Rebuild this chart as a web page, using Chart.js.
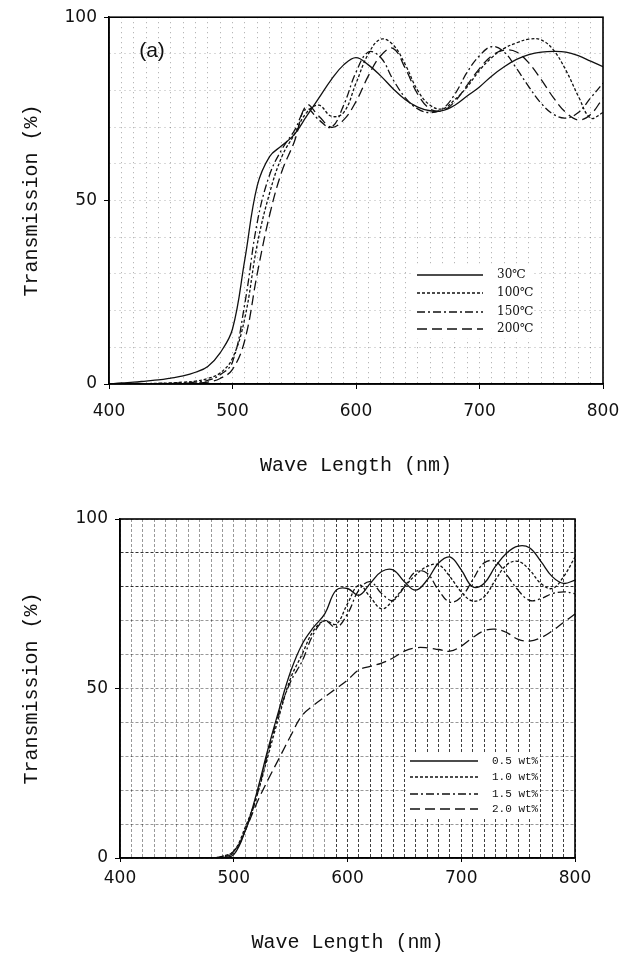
<!DOCTYPE html>
<html>
<head>
<meta charset="utf-8">
<script src="https://cdn.jsdelivr.net/npm/chart.js@4"></script>
<style>
body { margin: 0; background: #fff; width: 633px; height: 956px; position: relative; overflow: hidden; }
.box { position: absolute; left: 0; width: 633px; }
</style>
</head>
<body>
<div class="box" style="top:0;height:480px"><canvas id="chartA"></canvas></div>
<div class="box" style="top:480px;height:476px"><canvas id="chartB"></canvas></div>
<script>
// wavelength in nm, shared by every curve
const wavelength = [400,410,420,430,440,450,460,470,480,490,500,510,520,530,540,550,560,570,580,590,
  600,610,620,630,640,650,660,670,680,690,700,710,720,730,740,750,760,770,780,790,800];

// (a) transmission (%) vs annealing temperature
const temp30  = [0,0.3,0.5,0.8,1.1,1.6,2.2,3.2,4.8, 8.5,15,34,54,62,65,68,73,78,83, 87,89,87,84,80.5,77.5,75.5,74.5,74.5,76,
  78.5,81,84,86.5,88.5,89.8,90.5,90.7,90.5,89.5, 88,86.5];
const temp100 = [0,0,0,0.1,0.2,0.3,0.5,0.8,1.5, 3,7,18,38,52,62,68,74,76,73, 74,82,90,94,92.5,87,80,76,75,77.5,
  81,85.5,89,91.5,93,94,93.8,91,85.5,78.5, 72.5,74];
const temp150 = [0,0,0,0,0.1,0.2,0.3,0.5,1, 2.5,6,22,44,57,64,69,75,72,70, 76,85,90.5,89,83,78,75,74,75,79,
  85,89.5,92,90.5,86,81,76.5,73.5,72.5,74, 78,82];
const temp200 = [0,0,0,0,0,0.1,0.2,0.3,0.5, 1.5,4,12,30,46,58,66,76,73,70, 72,77,84,89.5,91.5,86,79,75,74.5,77,
  81.5,86,89.5,91,90.5,87.5,83,78,74,72, 73.5,78];

// (b) transmission (%) vs dopant content
const wt05 = [0,0,0,0,0,0,0,0,0, 0.2,1,8,19,32,44,55,63,68,72, 79,79.5,77.5,81,84.5,85,81.5,79,82,87,
  88.8,85,80,81,86,90,92,91.5,87.5,83, 81,82];
const wt10 = [0,0,0,0,0,0,0,0,0, 0.5,2,9,18,30,42,53,60,67,70, 69,75,80.5,77,73.5,76,80,83.5,86,86.5,
  83,78.5,75.8,77,82,86.5,87.5,85,81,79.5, 83,88.8];
const wt15 = [0,0,0,0,0,0,0,0,0, 0.5,2,8,18,31,43,52,58,66,70, 68,72,79,81.5,78,76,80,84.5,84,79,
  75.5,77,82,87,87.5,83.5,79,76,76.5,78, 78.5,78];
const wt20 = [0,0,0,0,0,0,0,0,0, 0.3,1.5,8,16,23,29.5,36,42,45,47.5, 50,52.5,55.5,56.5,57.5,59,61,62,62,61.5,
  61,62.5,65,67,67.5,66.5,64.5,64,65,67, 69.5,72];

const labelsA = ['30℃', '100℃', '150℃', '200℃'];
const labelsB = ['0.5 wt%', '1.0 wt%', '1.5 wt%', '2.0 wt%'];
const xTickLabels = [400, 500, 600, 700, 800];
const yTickLabels = [0, 50, 100];

const dashes = [[], [3, 2], [8, 3, 2, 3], [10, 5]];
const ink = '#111';

function points(vals) {
  return wavelength.map((w, i) => ({ x: w, y: vals[i] }));
}

function makeDatasets(series, labels) {
  return series.map((s, i) => ({
    label: labels[i],
    data: points(s),
    borderColor: ink,
    borderWidth: 1.3,
    borderDash: dashes[i],
    pointRadius: 0,
    tension: 0.4,
    fill: false
  }));
}

// box around the plot area + legend drawn like the figure
const framePlugin = {
  id: 'frame',
  afterDatasetsDraw(chart, args, opts) {
    const ctx = chart.ctx;
    const a = chart.chartArea;
    ctx.save();
    const rows = opts.rows;
    ctx.fillStyle = '#fff';
    ctx.fillRect(opts.x0 - 4, rows[0] - 9, opts.x2 - opts.x0 + opts.w, rows[rows.length - 1] - rows[0] + 18);
    chart.data.datasets.forEach((ds, i) => {
      const y = rows[i];
      ctx.strokeStyle = ink;
      ctx.lineWidth = 1.3;
      ctx.setLineDash(ds.borderDash);
      ctx.beginPath();
      ctx.moveTo(opts.x0, y);
      ctx.lineTo(opts.x1, y);
      ctx.stroke();
      ctx.setLineDash([]);
      ctx.fillStyle = ink;
      ctx.font = opts.font;
      ctx.textBaseline = 'middle';
      ctx.textAlign = 'left';
      ctx.fillText(ds.label, opts.x2, y);
    });
    if (opts.tag) {
      ctx.font = '21px "Liberation Sans"';
      ctx.textAlign = 'center';
      ctx.textBaseline = 'middle';
      ctx.fillText(opts.tag, opts.tagX, opts.tagY);
    }
    ctx.setLineDash([]);
    ctx.strokeStyle = '#000';
    ctx.lineWidth = 1.6;
    ctx.strokeRect(a.left, a.top, a.right - a.left, a.bottom - a.top);
    ctx.restore();
  }
};

function makeChart(id, datasets, cfg) {
  return new Chart(document.getElementById(id), {
    type: 'line',
    data: { datasets: datasets },
    plugins: [framePlugin],
    options: {
      responsive: true,
      maintainAspectRatio: false,
      animation: false,
      layout: { padding: cfg.padding },
      plugins: {
        legend: { display: false },
        tooltip: { enabled: false },
        frame: cfg.key
      },
      scales: {
        x: {
          type: 'linear', min: 400, max: 800,
          afterFit(s) { s.height = cfg.xHeight; },
          grid: {
            color: cfg.xGrid, lineWidth: 1, tickLength: cfg.xTick,
            tickColor: c => (c.tick && xTickLabels.includes(c.tick.value)) ? '#000' : 'rgba(0,0,0,0)'
          },
          border: { color: '#000', width: 1.5, dash: cfg.dash },
          ticks: {
            stepSize: 10, autoSkip: false, maxRotation: 0, padding: cfg.xPad,
            color: ink, font: { family: 'DejaVu Sans', size: 17 },
            callback: v => xTickLabels.includes(v) ? String(v) : ''
          },
          title: {
            display: true, text: 'Wave Length (nm)', color: ink,
            font: { family: 'Liberation Mono', size: 20 },
            padding: { top: 0, bottom: cfg.titlePad }
          }
        },
        y: {
          min: 0, max: 100,
          afterFit(s) { s.width = cfg.yWidth; },
          grid: {
            color: cfg.yGrid, lineWidth: 1, tickLength: 5,
            tickColor: c => (c.tick && yTickLabels.includes(c.tick.value)) ? '#000' : 'rgba(0,0,0,0)'
          },
          border: { color: '#000', width: 1.5, dash: cfg.dash },
          ticks: {
            stepSize: 10, autoSkip: false, padding: 7,
            color: ink, font: { family: 'DejaVu Sans', size: 17 },
            callback: v => yTickLabels.includes(v) ? String(v) : ''
          },
          title: {
            display: true, text: 'Transmission (%)', color: ink,
            font: { family: 'Liberation Mono', size: 20 },
            padding: { top: 20, bottom: 0 }
          }
        }
      }
    }
  });
}

makeChart('chartA', makeDatasets([temp30, temp100, temp150, temp200], labelsA), {
  padding: { top: 13, right: 30, left: 0, bottom: 0 },
  xHeight: 96, yWidth: 109, xTick: 5, xPad: 12, titlePad: 2,
  dash: [1, 4],
  xGrid: 'rgba(0,0,0,0.35)',
  yGrid: 'rgba(0,0,0,0.3)',
  key: { x0: 417, x1: 483, x2: 497, w: 40, rows: [275, 293, 312, 329],
    font: '12px "DejaVu Serif"', tag: '(a)', tagX: 152, tagY: 51 }
});

makeChart('chartB', makeDatasets([wt05, wt10, wt15, wt20], labelsB), {
  padding: { top: 39, right: 58, left: 0, bottom: 0 },
  xHeight: 98, yWidth: 120, xTick: 4, xPad: 6, titlePad: 1,
  dash: [3, 2],
  xGrid: c => (c.tick && c.tick.value >= 590) ? 'rgba(0,0,0,0.75)' : 'rgba(0,0,0,0.4)',
  yGrid: c => (c.tick && (c.tick.value === 80 || c.tick.value === 90)) ? 'rgba(0,0,0,0.8)' : 'rgba(0,0,0,0.4)',
  key: { x0: 410, x1: 478, x2: 492, w: 52, rows: [281, 297, 314, 329],
    font: '11px "Liberation Mono"' }
});
</script>
</body>
</html>
